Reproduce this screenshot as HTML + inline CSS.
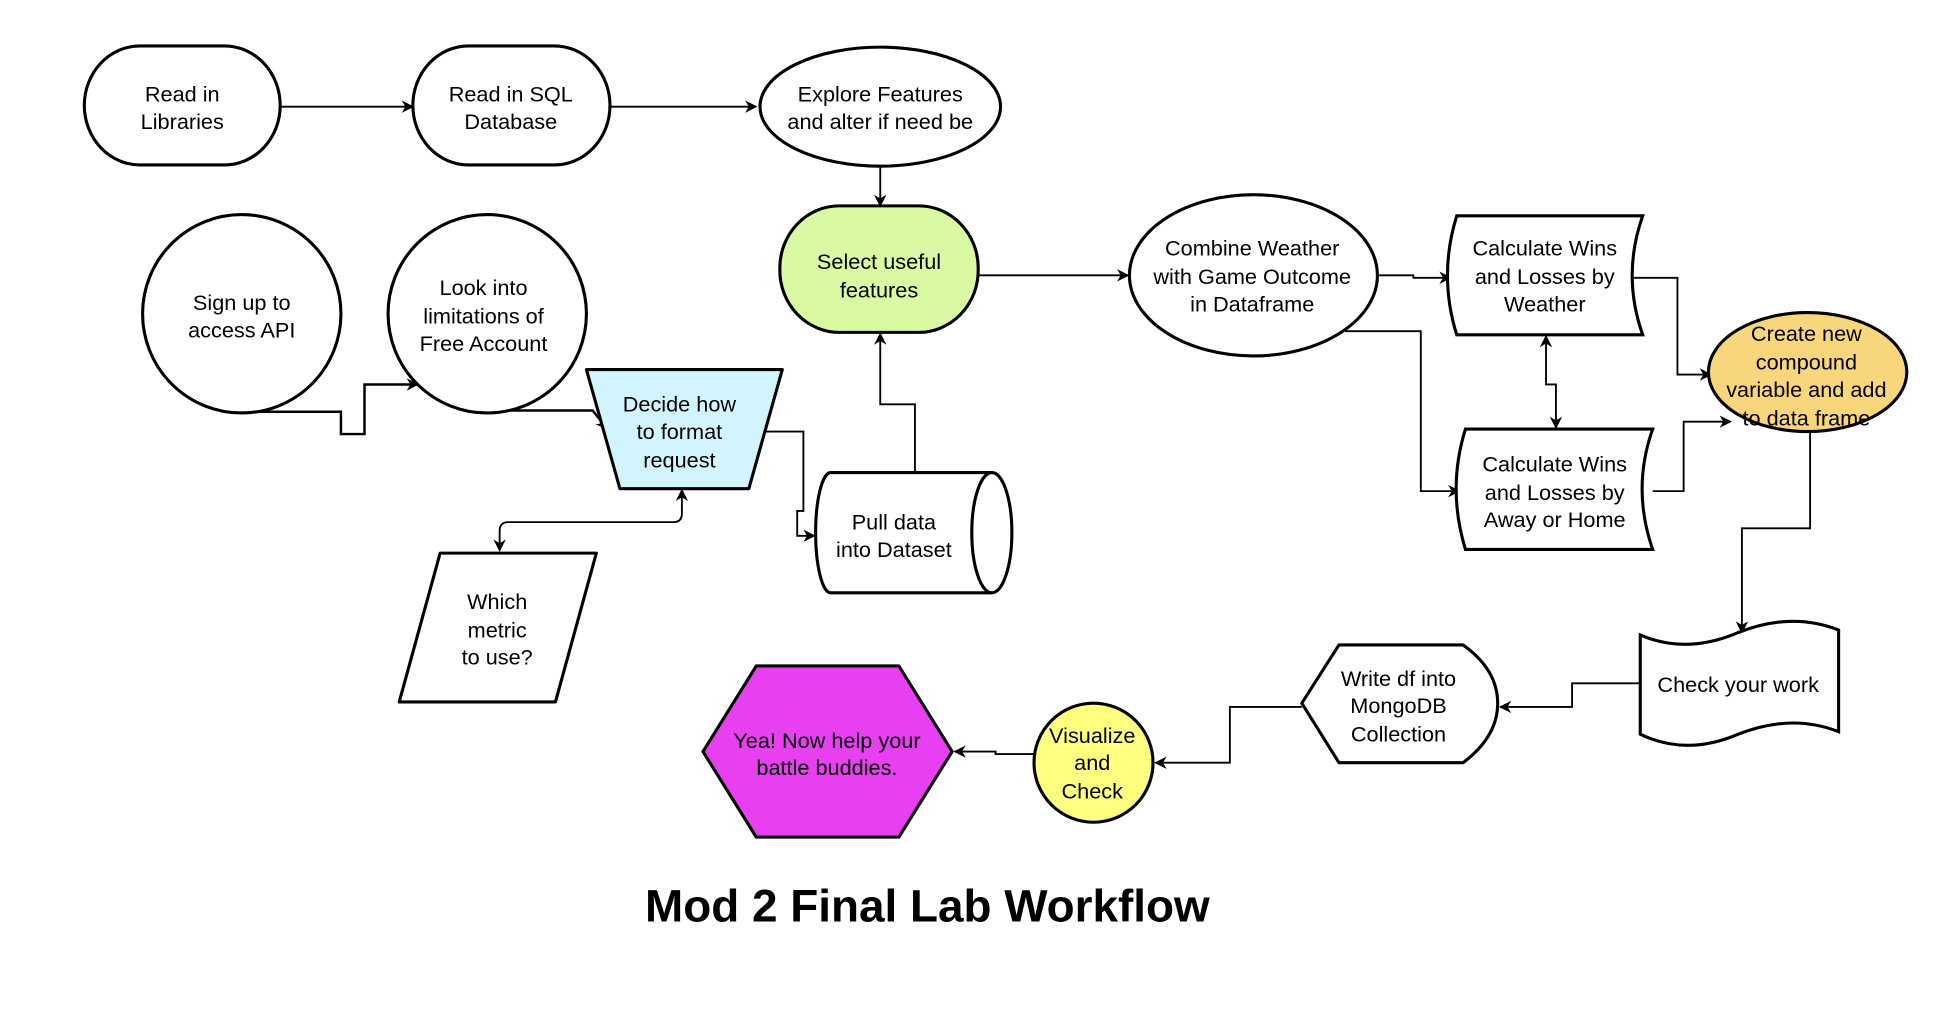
<!DOCTYPE html>
<html><head><meta charset="utf-8"><style>
html,body{margin:0;padding:0;background:#fff;}
svg{display:block}
text{font-family:"Liberation Sans",sans-serif;font-size:17.5px;fill:#000;text-anchor:middle}
</style></head><body>
<svg width="1944" height="1012" viewBox="0 0 1568 816" preserveAspectRatio="none" xmlns="http://www.w3.org/2000/svg">
<defs>
<marker id="a" markerWidth="10" markerHeight="10" refX="9" refY="5" orient="auto" markerUnits="userSpaceOnUse"><path d="M0,0 L10,5 L0,10 L3,5 z" fill="#000"/></marker>
<marker id="s" markerWidth="10" markerHeight="10" refX="1" refY="5" orient="auto" markerUnits="userSpaceOnUse"><path d="M10,0 L0,5 L10,10 L7,5 z" fill="#000"/></marker>
</defs>
<g fill="none" stroke="#000" stroke-width="1.5">
<path d="M226,86 H333" marker-end="url(#a)"/>
<path d="M492,86 H610" marker-end="url(#a)"/>
<path d="M710,133 V166" marker-end="url(#a)"/>
<path d="M789,222 H910" marker-end="url(#a)"/>
<path d="M1111,222 H1140 V224 H1170" marker-end="url(#a)"/>
<path d="M1085,267 H1146 V396 H1177" marker-end="url(#a)"/>
<path d="M1247,271 V310 H1255 V345" marker-start="url(#s)" marker-end="url(#a)"/>
<path d="M1313,224 H1353 V302 H1380" marker-end="url(#a)"/>
<path d="M1333,396 H1358 V340 H1396" marker-end="url(#a)"/>
<path d="M1460,348 V426 H1405 V510" marker-end="url(#a)"/>
<path d="M1323,551 H1268 V570 H1210" marker-end="url(#a)"/>
<path d="M1050,570 H992 V615 H932" marker-end="url(#a)"/>
<path d="M834,608 H803 V606 H770" marker-end="url(#a)"/>
<path d="M738,381 V326 H710 V269" marker-end="url(#a)"/>
<path d="M604,348 H648 V412 H643 V432 H657" marker-end="url(#a)"/>
<path d="M403,444 V428 Q403,421 410,421 H543 Q550,421 550,414 V395" marker-start="url(#s)" marker-end="url(#a)"/>
<path d="M195,332 H275 V350 H294 V310 H337" marker-end="url(#a)" stroke-width="2"/>
<path d="M393,331 H478 L490,346" marker-end="url(#a)" stroke-width="2"/>
</g>
<g stroke="#000" stroke-width="2.5">
<rect x="68" y="37" width="158" height="96" rx="45" ry="48" fill="#fff"/>
<rect x="333" y="37" width="159" height="96" rx="45" ry="48" fill="#fff"/>
<ellipse cx="710" cy="86" rx="97" ry="48" fill="#fff"/>
<rect x="629" y="166" width="160" height="102" rx="48" ry="50" fill="#d9f9a3"/>
<ellipse cx="195" cy="253" rx="80" ry="80" fill="#fff"/>
<ellipse cx="393" cy="253" rx="80" ry="80" fill="#fff"/>
<path d="M473,298 H631 L604,394 H500 Z" fill="#d2f5fd" stroke-linejoin="round"/>
<path d="M355,446 H481 L448,566 H322 Z" fill="#fff" stroke-linejoin="round"/>
<path d="M670,381 H800 A16,48 0 0 1 800,478 H670 A12,48 0 0 1 670,381 Z" fill="#fff"/>
<path d="M800,381 A16,48 0 0 0 800,478" fill="none"/>
<ellipse cx="1011" cy="222" rx="100" ry="65" fill="#fff"/>
<path d="M1175,174 H1325 Q1308,222 1325,270 H1175 Q1160,222 1175,174 Z" fill="#fff"/>
<path d="M1182,346 H1333 Q1316,394 1333,443 H1182 Q1167,394 1182,346 Z" fill="#fff"/>
<ellipse cx="1458" cy="300" rx="80" ry="48" fill="#f8d67b"/>
<path d="M1323,512 Q1360,528 1402,510 Q1445,493 1483,508 V590 Q1445,575 1402,592 Q1360,610 1323,592 Z" fill="#fff"/>
<path d="M1080,520 H1180 Q1208,540 1208,567 Q1208,594 1180,615 H1080 L1050,567 Z" fill="#fff" stroke-linejoin="round"/>
<ellipse cx="882" cy="615" rx="48" ry="48" fill="#ffff80"/>
<path d="M610,537 H725 L768,606 L725,675 H610 L567,606 Z" fill="#e83ff0" stroke-linejoin="round"/>
</g>
<text x="147" y="82">Read in</text><text x="147" y="104">Libraries</text>
<text x="412" y="82">Read in SQL</text><text x="412" y="104">Database</text>
<text x="710" y="82">Explore Features</text><text x="710" y="104">and alter if need be</text>
<text x="709" y="217">Select useful</text><text x="709" y="240">features</text>
<text x="195" y="250">Sign up to</text><text x="195" y="272">access API</text>
<text x="390" y="238">Look into</text><text x="390" y="261">limitations of</text><text x="390" y="283">Free Account</text>
<text x="548" y="332">Decide how</text><text x="548" y="354">to format</text><text x="548" y="377">request</text>
<text x="401" y="491">Which</text><text x="401" y="514">metric</text><text x="401" y="536">to use?</text>
<text x="721" y="427">Pull data</text><text x="721" y="449">into Dataset</text>
<text x="1010" y="206">Combine Weather</text><text x="1010" y="229">with Game Outcome</text><text x="1010" y="251">in Dataframe</text>
<text x="1246" y="206">Calculate Wins</text><text x="1246" y="229">and Losses by</text><text x="1246" y="251">Weather</text>
<text x="1254" y="380">Calculate Wins</text><text x="1254" y="403">and Losses by</text><text x="1254" y="425">Away or Home</text>
<text x="1457" y="275">Create new</text><text x="1457" y="298">compound</text><text x="1457" y="320">variable and add</text><text x="1457" y="343">to data frame</text>
<text x="1402" y="558">Check your work</text>
<text x="1128" y="553">Write df into</text><text x="1128" y="575">MongoDB</text><text x="1128" y="598">Collection</text>
<text x="881" y="599">Visualize</text><text x="881" y="621">and</text><text x="881" y="644">Check</text>
<text x="667" y="603">Yea! Now help your</text><text x="667" y="625">battle buddies.</text>
<text x="748" y="743" style="font-size:37px;font-weight:bold">Mod 2 Final Lab Workflow</text>
</svg>
</body></html>
